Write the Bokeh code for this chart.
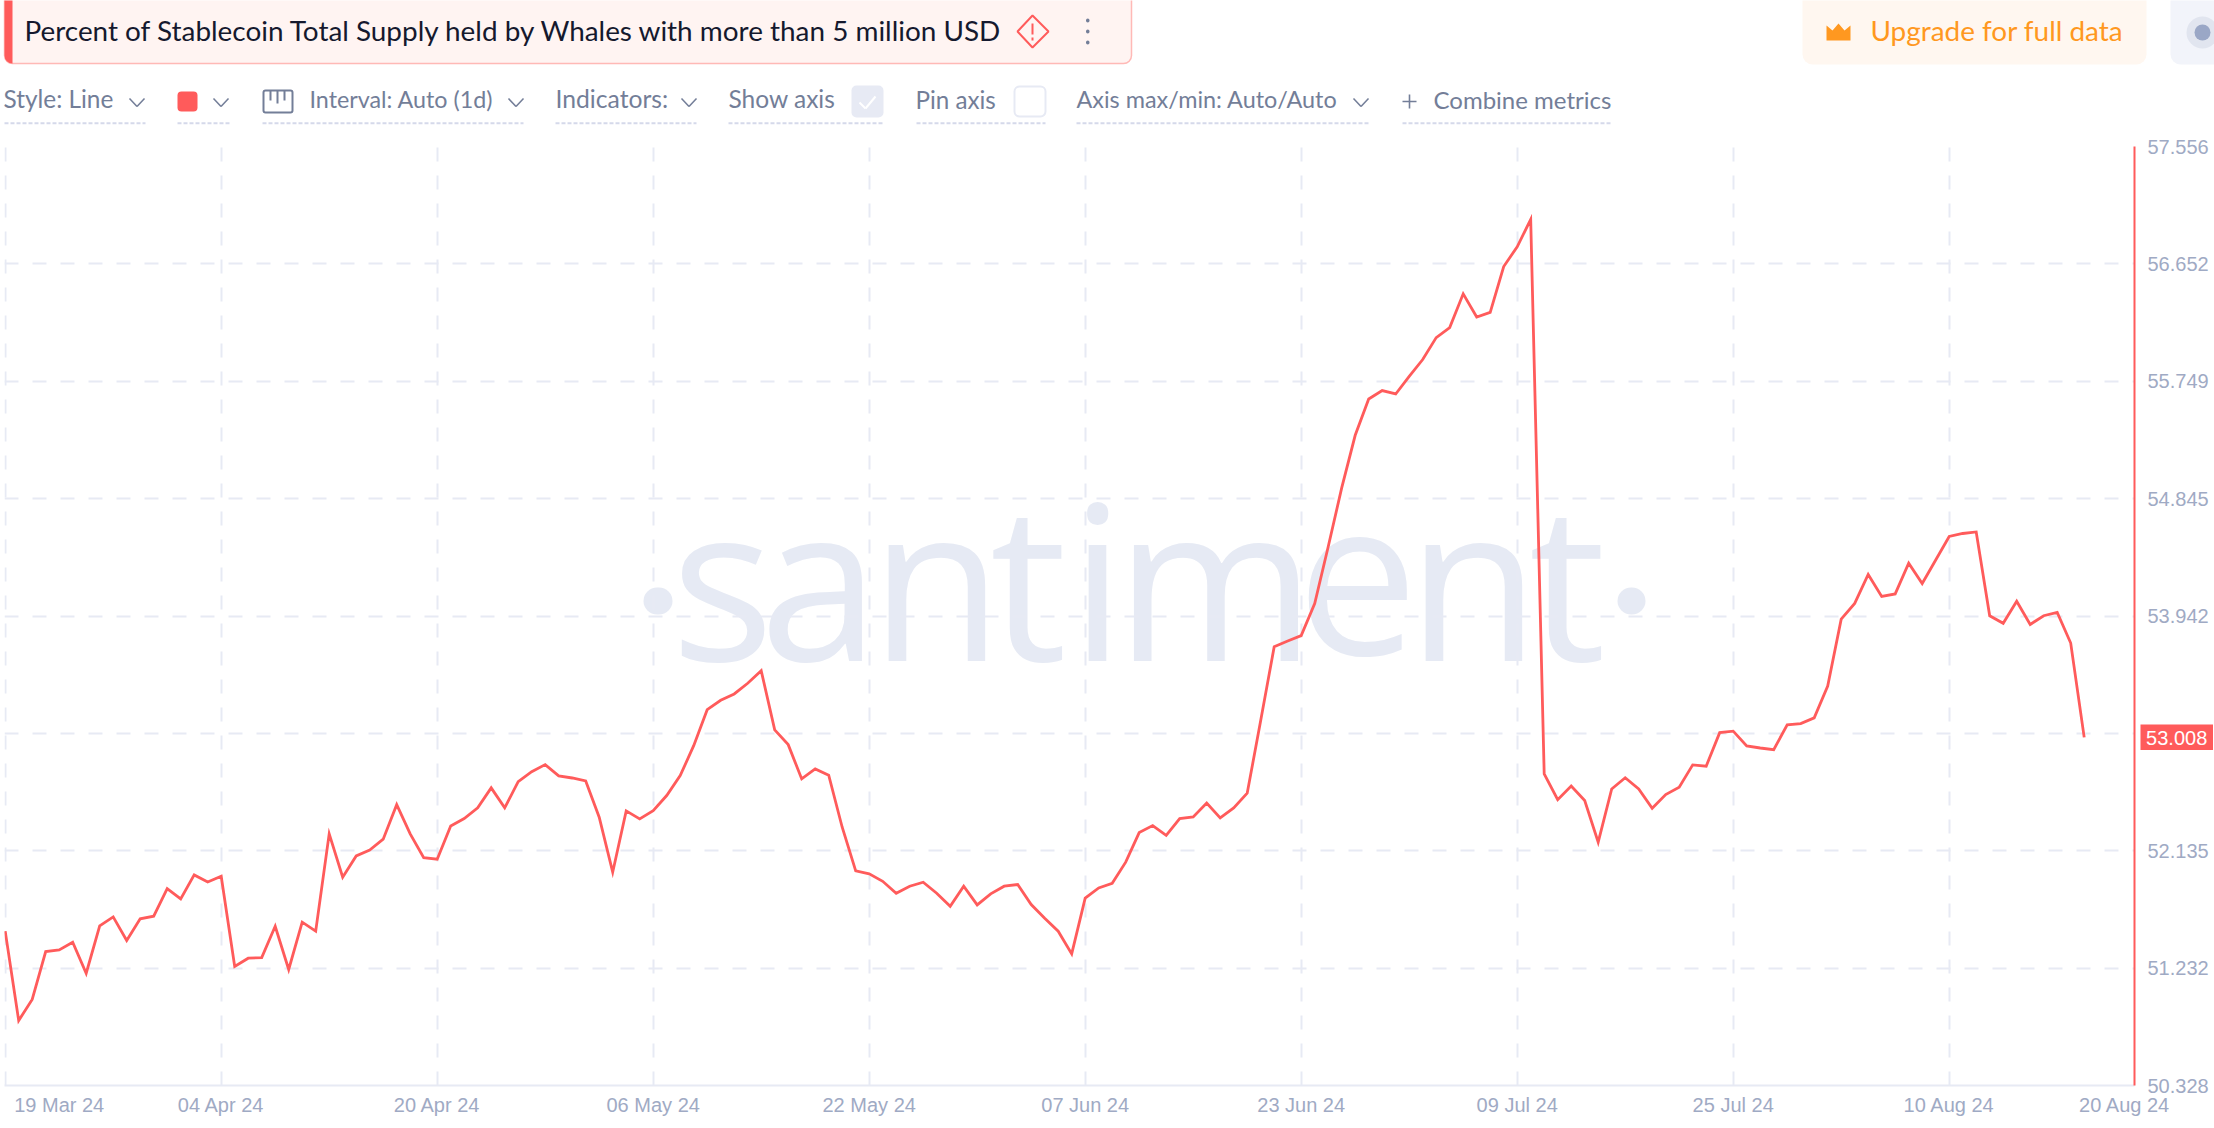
import pandas as pd
from bokeh.embed import file_html
from bokeh.layouts import column
from bokeh.resources import INLINE
from bokeh.plotting import figure
from bokeh.models import (Arrow, BoxAnnotation, FixedTicker, Label, LinearAxis, PolyAnnotation, Range1d)

# ---------- data ----------
start_date = "2024-03-19"
end_date = "2024-08-20"
values = [
    51.516, 50.828, 50.990, 51.359, 51.372, 51.431, 51.192, 51.557, 51.626, 51.444,
    51.611, 51.631, 51.844, 51.764, 51.949, 51.895, 51.939, 51.244, 51.308, 51.313,
    51.554, 51.221, 51.585, 51.516, 52.265, 51.931, 52.095, 52.141, 52.224, 52.490,
    52.265, 52.082, 52.070, 52.326, 52.383, 52.465, 52.619, 52.465, 52.667, 52.744,
    52.798, 52.711, 52.695, 52.672, 52.393, 51.970, 52.442, 52.380, 52.444, 52.560,
    52.713, 52.944, 53.221, 53.293, 53.342, 53.424, 53.521, 53.065, 52.952, 52.688,
    52.765, 52.716, 52.316, 51.980, 51.957, 51.900, 51.808, 51.862, 51.893, 51.808,
    51.708, 51.862, 51.718, 51.803, 51.862, 51.875, 51.721, 51.616, 51.516, 51.341,
    51.770, 51.849, 51.885, 52.047, 52.275, 52.329, 52.254, 52.383, 52.395, 52.503,
    52.388, 52.465, 52.578, 53.137, 53.706, 53.749, 53.791, 54.038, 54.475, 54.928,
    55.333, 55.612, 55.677, 55.651, 55.787, 55.916, 56.085, 56.162, 56.422, 56.243,
    56.279, 56.632, 56.784, 56.995, 52.726, 52.528, 52.633, 52.522, 52.201, 52.611,
    52.697, 52.611, 52.462, 52.567, 52.624, 52.796, 52.786, 53.044, 53.056, 52.942,
    52.926, 52.913, 53.104, 53.114, 53.158, 53.403, 53.918, 54.039, 54.262, 54.093,
    54.112, 54.348, 54.192, 54.373, 54.554, 54.577, 54.589, 53.944, 53.886, 54.055,
    53.877, 53.944, 53.969, 53.734, 53.008,
]
y_ticks = [50.328, 51.232, 52.135, 53.038, 53.942, 54.845, 55.749, 56.652, 57.556]
x_grid_dates = ["2024-03-19", "2024-04-04", "2024-04-20", "2024-05-06", "2024-05-22", "2024-06-07",
                "2024-06-23", "2024-07-09", "2024-07-25", "2024-08-10"]
# the first and last labels sit beside their dates, so their anchor dates differ from the grid
x_label_dates = ["2024-03-23", "2024-04-04", "2024-04-20", "2024-05-06", "2024-05-22", "2024-06-07",
                 "2024-06-23", "2024-07-09", "2024-07-25", "2024-08-10", "2024-08-23"]
x_tick_labels = ["19 Mar 24", "04 Apr 24", "20 Apr 24", "06 May 24", "22 May 24", "07 Jun 24",
                 "23 Jun 24", "09 Jul 24", "25 Jul 24", "10 Aug 24", "20 Aug 24"]
title_text = "Percent of Stablecoin Total Supply held by Whales with more than 5 million USD"

# ---------- colours ----------
RED = "#ff5b5b"
GRID = "#e7eaf4"
TICK = "#9faac4"
CTRL = "#737e98"
DASH = "#d5d9ea"
ORANGE = "#ff9820"
UI_FONT = "Lato"
AX_FONT = "Liberation Sans"
BASE_K = 0.39   # Label draws "alphabetic" text this many em below its y

dates = pd.date_range(start_date, end_date, freq="D")
def ms(d):
    return pd.Timestamp(d).value / 1e6
DAY = 86400000.0
grid_ms = [ms(d) for d in x_grid_dates]
label_ms = [ms(d) for d in x_label_dates]

W, H = 2214, 1128
CH = 125               # height of the header strip
L, R, T, B = 4, 2134, 146, 1085
x0 = ms(start_date) - 0.7 / 13.5 * DAY
x1 = x0 + (R - L) / 13.5 * DAY

# ---------- main chart ----------
p = figure(width=W, height=H - CH, output_backend="svg", toolbar_location=None,
           x_axis_type="datetime", x_range=Range1d(x0, x1),
           y_range=Range1d(y_ticks[0], y_ticks[-1]), y_axis_location=None,
           min_border_left=L, min_border_right=W - R, min_border_top=T - CH, min_border_bottom=H - B,
           outline_line_color=None, frame_align=False)
p.background_fill_color = None
p.border_fill_color = "white"

p.xgrid.ticker = FixedTicker(ticks=grid_ms)
p.ygrid.ticker = FixedTicker(ticks=y_ticks)
for g in (p.xgrid, p.ygrid):
    g.grid_line_color = GRID
    g.grid_line_width = 2
    g.grid_line_dash = "14 14"

xa = p.xaxis[0]
xa.ticker = FixedTicker(ticks=label_ms)
xa.major_label_overrides = {m: t for m, t in zip(label_ms, x_tick_labels)}
xa.axis_line_color = GRID
xa.axis_line_width = 2
xa.major_tick_line_color = None
xa.minor_tick_line_color = None
xa.major_label_text_color = TICK
xa.major_label_text_font = AX_FONT
xa.major_label_text_font_size = "20px"
xa.major_label_standoff = 2

ya = LinearAxis(ticker=FixedTicker(ticks=y_ticks),
                major_label_overrides={y_ticks[3]: ""})
ya.axis_line_color = RED
ya.axis_line_width = 2
ya.major_tick_line_color = None
ya.minor_tick_line_color = None
ya.major_label_text_color = TICK
ya.major_label_text_font = AX_FONT
ya.major_label_text_font_size = "20px"
ya.major_label_standoff = 7
p.add_layout(ya, "right")

p.line(dates, values, line_color=RED, line_width=2.8, line_join="miter")

# ---------- header strip ----------
c = figure(width=W, height=CH, output_backend="svg", toolbar_location=None,
           x_range=Range1d(0, W), y_range=Range1d(CH, 0), x_axis_location=None, y_axis_location=None,
           min_border=0, outline_line_color=None, frame_align=False)
c.grid.visible = False
c.border_fill_color = "white"
c.background_fill_color = "white"

def box(l, r, t, b, fill, line=None, lw=1, radius=0, fig=c, level="guide"):
    fig.add_layout(BoxAnnotation(left=l, right=r, top=t, bottom=b,
                                 left_units="canvas", right_units="canvas",
                                 top_units="canvas", bottom_units="canvas",
                                 fill_color=fill, fill_alpha=1 if fill else 0, line_color=line, line_width=lw,
                                 line_alpha=1 if line else 0, border_radius=radius, level=level))

def text(x, y, s, color=CTRL, size=24.0, font=UI_FONT, style="normal", align="left", fig=c, level="guide", k=BASE_K):
    fig.add_layout(Label(x=x, y=y - k * size, x_units="canvas", y_units="canvas", text=s, text_color=color,
                         text_font=font, text_font_size=f"{size}px", text_font_style=style,
                         text_align=align, text_baseline="alphabetic", level=level))

def seg(xa_, ya_, xb_, yb_, color=CTRL, lw=2, dash="solid"):
    c.add_layout(Arrow(end=None, start=None, x_start=xa_, y_start=ya_, x_end=xb_, y_end=yb_,
                       start_units="canvas", end_units="canvas",
                       line_color=color, line_width=lw, line_dash=dash, level="guide"))

def poly(xs, ys, fill=None, line=None, lw=2):
    c.add_layout(PolyAnnotation(xs=xs, ys=ys, xs_units="canvas", ys_units="canvas",
                                fill_color=fill, fill_alpha=1 if fill else 0,
                                line_color=line, line_width=lw, line_alpha=1 if line else 0, level="guide"))

def chevron(x0_, x1_, y0_=98, y1_=106):
    xm = (x0_ + x1_) / 2
    seg(x0_, y0_, xm, y1_, CTRL, 1.6)
    seg(xm, y1_, x1_, y0_, CTRL, 1.6)

# watermark, in the chart
wm = "#e6eaf4"
for ch, cx in zip("santiment", [722, 819, 936, 1028, 1097, 1215, 1357, 1473, 1567]):
    text(cx, 661 - CH, ch, color=wm, size=216, font="Open Sans", align="center", fig=p, level="image")
box(643, 672, 587 - CH, 614 - CH, wm, None, 0, 14, fig=p, level="image")
box(1617, 1645, 587 - CH, 614 - CH, wm, None, 0, 14, fig=p, level="image")

# title banner
box(4, 1131, -12, 63, "#fff4f2", "#ffb9b6", 1.5, 8)
box(4, 12, -12, 63, RED, None, 0, (8, 0, 0, 8))
text(24, 40, title_text, color="#15192e", size=27.9)
poly([1017, 1032, 1048, 1032], [31, 15, 31, 47], None, RED, 2)
seg(1032, 23, 1032, 34, RED, 2)
seg(1032, 37, 1032, 40, RED, 2)
for y in (20, 31, 42):
    box(1085.5, 1089, y - 2, y + 2, CTRL, None, 0, 2)

# controls
text(3, 108, "Style: Line", size=24.4)
chevron(129, 144)
box(177, 197, 91, 111, RED, None, 0, 4)
chevron(213, 228)
box(263, 292, 90, 112, None, CTRL, 2, 2)
for x in (270, 277, 284):
    seg(x, 90, x, 100 if x != 277 else 103, CTRL, 2)
text(309, 108, "Interval: Auto (1d)", size=23.3)
chevron(508, 523)
text(555, 108, "Indicators:", size=24.7)
chevron(681, 696)
text(728, 108, "Show axis", size=24.5)
box(851, 883, 85, 117, GRID, None, 0, 5)
seg(859, 102, 865, 108, "white", 2)
seg(865, 108, 875, 96, "white", 2)
text(915, 108, "Pin axis", size=24.2)
box(1014, 1045, 86, 116, "white", GRID, 2, 5)
text(1076, 108, "Axis max/min: Auto/Auto", size=23.4)
chevron(1353, 1368)
seg(1402, 101, 1416, 101, CTRL, 1.6)
seg(1409, 94, 1409, 108, CTRL, 1.6)
text(1433, 108, "Combine metrics", size=24)
for a, b in [(4, 145), (177, 229), (262, 523), (555, 696), (728, 883), (916, 1045), (1076, 1369), (1402, 1611)]:
    seg(a, 122.8, b, 122.8, DASH, 2, "4 2")

# upgrade button
box(1802, 2146, -12, 64, "#fff7f0", None, 0, 10)
poly([1826, 1826, 1832, 1838, 1844, 1850, 1850], [40, 25, 30, 23, 30, 25, 40], ORANGE, None, 0)
text(1870, 40, "Upgrade for full data", color=ORANGE, size=27.9)

# profile button
box(2170, 2226, -12, 64, "#f2f4fa", None, 0, 10)
box(2186, 2218, 16, 48, "#e1e5ef", None, 0, 16)
box(2194, 2210, 24, 40, "#9aa7c6", None, 0, 8)

# ---------- latest-value flag, laid over the right axis ----------
FL, FR, FT, FB = 2140, 2213, 724, 750
f = figure(width=FR - FL, height=FB - FT, output_backend="svg", toolbar_location=None,
           x_range=Range1d(0, FR - FL), y_range=Range1d(0, FB - FT), x_axis_location=None, y_axis_location=None,
           min_border=0, outline_line_color=None, margin=(FT - H, 0, 0, FL), frame_align=False)
f.grid.visible = False
f.background_fill_color = RED
f.border_fill_color = RED
f.add_layout(Label(x=5.6, y=13, x_units="data", y_units="data", text=f"{values[-1]:.3f}", text_color="white",
                   text_font=AX_FONT, text_font_size="20px", text_baseline="middle", text_align="left"))

open("out.html", "w").write(file_html(column(c, p, f, spacing=0), INLINE))
